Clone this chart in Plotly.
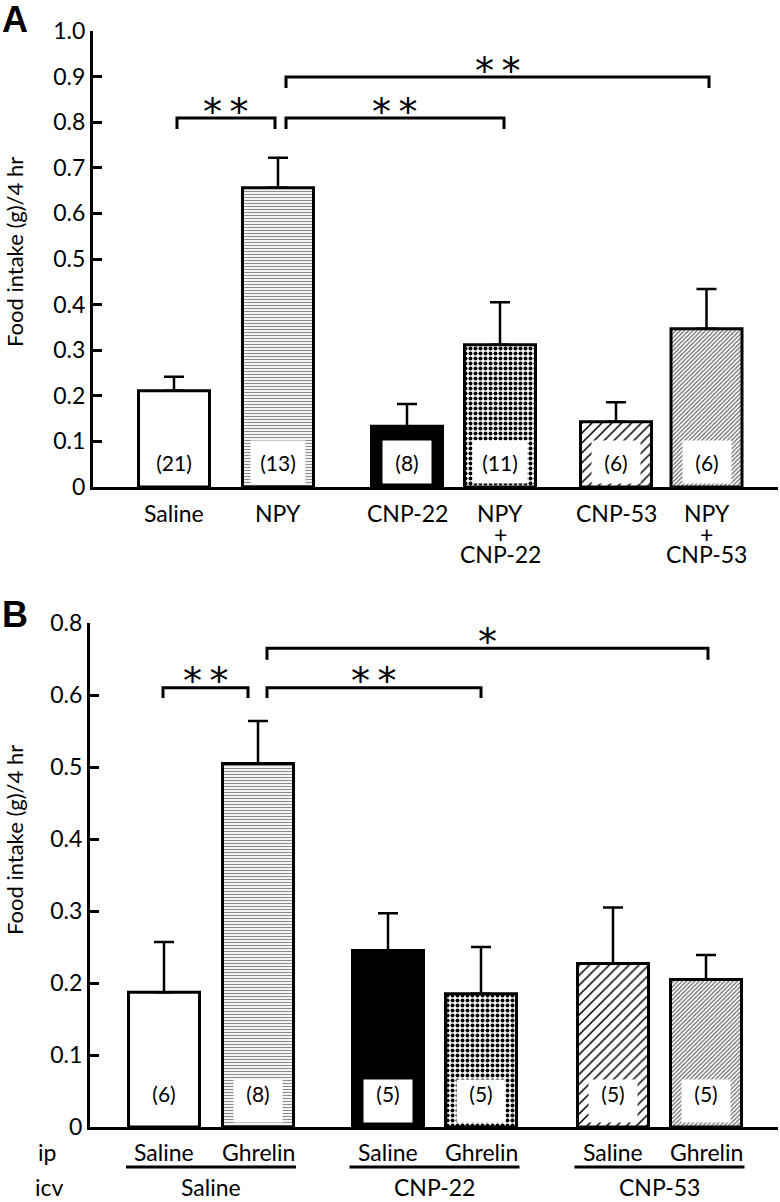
import plotly.graph_objects as go

W, H = 780, 1202

# ---------------- data ----------------
A_labels = [["Saline"], ["NPY"], ["CNP-22"], ["NPY", "+", "CNP-22"], ["CNP-53"], ["NPY", "+", "CNP-53"]]
A_means = [0.211, 0.656, 0.133, 0.312, 0.143, 0.347]
A_sem = [0.031, 0.066, 0.049, 0.093, 0.043, 0.087]
A_n = [21, 13, 8, 11, 6, 6]
A_ticks = [0.0, 0.1, 0.2, 0.3, 0.4, 0.5, 0.6, 0.7, 0.8, 0.9, 1.0]
A_ticktext = ["0", "0.1", "0.2", "0.3", "0.4", "0.5", "0.6", "0.7", "0.8", "0.9", "1.0"]

B_ip = ["Saline", "Ghrelin", "Saline", "Ghrelin", "Saline", "Ghrelin"]
B_icv = ["Saline", "CNP-22", "CNP-53"]
B_means = [0.187, 0.505, 0.245, 0.185, 0.227, 0.205]
B_sem = [0.070, 0.059, 0.052, 0.065, 0.078, 0.034]
B_n = [6, 8, 5, 5, 5, 5]
# upper part of panel B axis is compressed (0.6 -> 0.8 drawn in one step)
B_ticks = [0.0, 0.1, 0.2, 0.3, 0.4, 0.5, 0.6, 0.7]
B_ticktext = ["0", "0.1", "0.2", "0.3", "0.4", "0.5", "0.6", "0.8"]

# ---------------- layout / style ----------------
A_pos = [81, 185, 314, 407, 523, 613.5]
B_pos = [74, 168, 298, 391, 523, 616]
BAR_W = 71

def px(p):
    return p / W

def py(p):
    return 1 - p / H

FONT = "Lato"
STYLES = [
    dict(color="white"),
    dict(color="white", pattern=dict(shape="-", fgcolor="#8c8c8c", bgcolor="white",
                                     size=3, solidity=0.4, fillmode="replace")),
    dict(color="black"),
    dict(color="white", pattern=dict(shape=".", fgcolor="black", bgcolor="white",
                                     size=5, solidity=0.5, fillmode="replace")),
    dict(color="white", pattern=dict(shape="/", fgcolor="black", bgcolor="white",
                                     size=7, solidity=0.22, fillmode="replace")),
    dict(color="white", pattern=dict(shape="/", fgcolor="#666666", bgcolor="white",
                                     size=3, solidity=0.4, fillmode="replace")),
]

fig = go.Figure()

def add_bars(xpos, means, sem, xa, ya):
    for i in range(len(means)):
        st = STYLES[i]
        mk = dict(color=st["color"], line=dict(color="black", width=3))
        if "pattern" in st:
            mk["pattern"] = st["pattern"]
        fig.add_trace(go.Bar(
            x=[xpos[i]], y=[means[i]], width=BAR_W, xaxis=xa, yaxis=ya,
            marker=mk,
            error_y=dict(type="data", array=[sem[i]], arrayminus=[0], symmetric=False,
                         color="black", thickness=2.5, width=10),
            showlegend=False, hoverinfo="skip"))

add_bars(A_pos, A_means, A_sem, "x", "y")
add_bars(B_pos, B_means, B_sem, "x2", "y2")

axis_common = dict(showgrid=False, zeroline=False, showline=True, linecolor="black",
                   linewidth=3, automargin=False)

fig.update_layout(
    width=W, height=H, margin=dict(l=0, r=0, t=0, b=0, autoexpand=False),
    paper_bgcolor="white", plot_bgcolor="white",
    font=dict(family=FONT, color="black"),
    bargap=0, barmode="overlay",
    xaxis=dict(domain=[px(93), px(778)], range=[0, 685], showticklabels=False,
               ticks="", anchor="y", **axis_common),
    yaxis=dict(domain=[py(487), py(31)], range=[0, 1.0], tickvals=A_ticks,
               ticktext=A_ticktext, ticks="inside", ticklen=9, tickwidth=3,
               tickcolor="black", tickfont=dict(size=23, family=FONT),
               anchor="x", **axis_common),
    xaxis2=dict(domain=[px(90), px(778)], range=[0, 688], showticklabels=False,
                ticks="", anchor="y2", **axis_common),
    yaxis2=dict(domain=[py(1127), py(623)], range=[0, 0.7], tickvals=B_ticks,
                ticktext=B_ticktext, ticks="inside", ticklen=9, tickwidth=3,
                tickcolor="black", tickfont=dict(size=23, family=FONT),
                anchor="x2", **axis_common),
)

ann = []
shapes = []

def text(t, x, y, xref="paper", yref="paper", size=23, family=FONT, **kw):
    d = dict(text=t, x=x, y=y, xref=xref, yref=yref, showarrow=False,
             xanchor="center", yanchor="middle", font=dict(size=size, family=family))
    d.update(kw)
    ann.append(d)

# panel letters
text("<b>A</b>", px(0), py(20), size=36, family="Liberation Sans", xanchor="left")
text("<b>B</b>", px(0), py(614), size=36, family="Liberation Sans", xanchor="left")

# y titles
for yc in (252, 840):
    text("Food intake (g)/4 hr", px(14), py(yc), size=22, textangle=-90)

# n labels
for i, (xp, n) in enumerate(zip(A_pos, A_n)):
    text(f"({n})", xp, 0.006, xref="x", yref="y", size=21, yanchor="bottom",
         width=52 if n >= 10 else 46, height=40, valign="middle",
         bgcolor="white" if i > 0 else "rgba(0,0,0,0)")
for i, (xp, n) in enumerate(zip(B_pos, B_n)):
    text(f"({n})", xp, 0.005, xref="x2", yref="y2", size=21, yanchor="bottom",
         width=46, height=40, valign="top",
         bgcolor="white" if i > 0 else "rgba(0,0,0,0)")

# panel A category labels (stacked lines)
line_y = [513, 534, 554]
for xp, lines in zip(A_pos, A_labels):
    for j, t in enumerate(lines):
        text(t, xp, py(line_y[j]), xref="x")

# panel B ip / icv labels
ICV_Y = 1187
text("ip", px(47), py(1152))
text("icv", px(50), py(ICV_Y))
for xp, t in zip(B_pos, B_ip):
    text(t, xp, py(1152), xref="x2")
for k, t in enumerate(B_icv):
    mid = (B_pos[2 * k] + B_pos[2 * k + 1]) / 2
    text(t, mid, py(ICV_Y), xref="x2")
    shapes.append(dict(type="line", x0=mid - 85, x1=mid + 85, y0=py(1167), y1=py(1167),
                       xref="x2", yref="paper", line=dict(color="black", width=3)))

# significance brackets
def bracket(xa, ya, x0, x1, y, leg, label, ly):
    shapes.append(dict(type="path",
                       path=f"M {x0},{y - leg} L {x0},{y} L {x1},{y} L {x1},{y - leg}",
                       xref=xa, yref=ya, line=dict(color="black", width=3)))
    text(label, (x0 + x1) / 2, ly, xref=xa, yref=ya, size=38, family="DejaVu Sans")

STAR2 = "*\u2009*"
bracket("x", "y", 84, 182, 0.809, 0.024, STAR2, 0.823)
bracket("x", "y", 193, 411, 0.809, 0.024, STAR2, 0.823)
bracket("x", "y", 193, 616, 0.899, 0.024, STAR2, 0.913)
bracket("x2", "y2", 73, 158, 0.610, 0.014, STAR2, 0.619)
bracket("x2", "y2", 177, 391, 0.610, 0.014, STAR2, 0.619)
bracket("x2", "y2", 177, 618, 0.665, 0.016, "*", 0.674)

fig.update_layout(annotations=ann, shapes=shapes)
fig.write_html("out.html", config={"displayModeBar": False, "staticPlot": True},
               post_script="document.body.style.margin='0';document.body.style.overflow='hidden';")
